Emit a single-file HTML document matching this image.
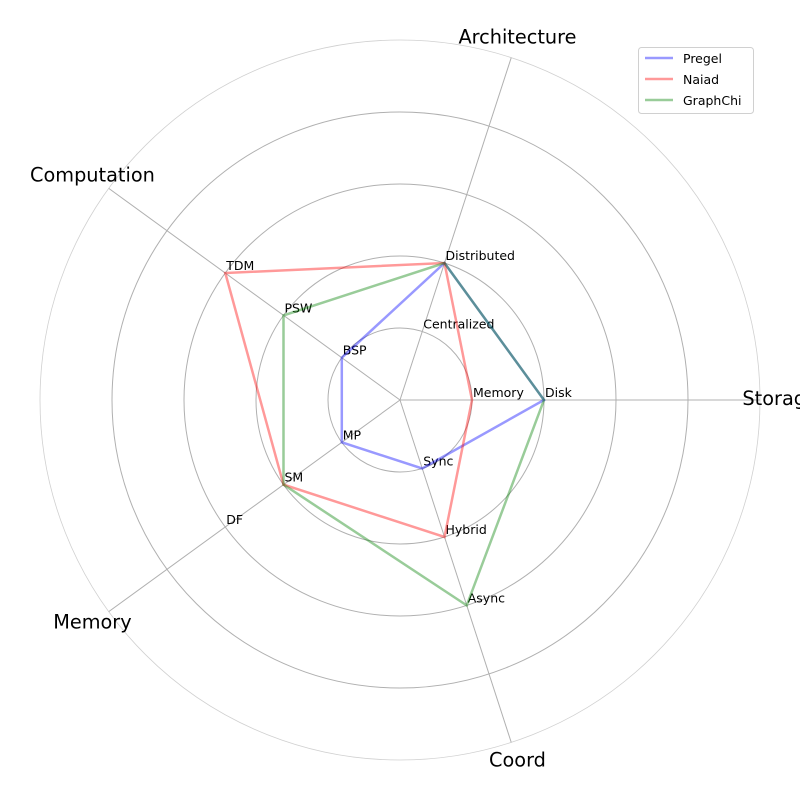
<!DOCTYPE html>
<html><head><meta charset="utf-8"><style>
body{margin:0;background:#fff}
svg{display:block;font-family:"DejaVu Sans","Liberation Sans",sans-serif}
</style></head><body>
<svg id="chart" width="800" height="800"></svg>
<script>
const categories = ["Storage","Architecture","Computation","Memory","Coord"];
const tickLabels = [["Memory","Disk"],["Centralized","Distributed"],["BSP","PSW","TDM"],["MP","SM","DF"],["Sync","Hybrid","Async"]];
const seriesNames = ["Pregel","Naiad","GraphChi"];
const pregel = [2,2,1,1,1];
const naiad = [1,2,3,2,2];
const graphchi = [2,2,2,2,3];
const seriesValues = [pregel,naiad,graphchi];
const colors = ["#0000ff","#ff0000","#008000"];

const NS="http://www.w3.org/2000/svg";
const svg=document.getElementById('chart');
const cx=400,cy=400,unit=72,maxV=5;
function ang(i){return i*2*Math.PI/categories.length;}
function px(i,v){return cx+Math.cos(ang(i))*v*unit;}
function py(i,v){return cy-Math.sin(ang(i))*v*unit;}
function mk(tag,attrs){const e=document.createElementNS(NS,tag);for(const k in attrs)e.setAttribute(k,attrs[k]);svg.appendChild(e);return e;}

for(let r=1;r<=maxV;r++){
  const c=mk('circle',{cx:cx,cy:cy,r:r*unit,fill:'none',stroke:r===maxV?'#d0d0d0':'#b0b0b0','stroke-width':r===maxV?0.8:1});
  
  
}
categories.forEach((c,i)=>{
  const l=mk('line',{x1:cx,y1:cy,x2:px(i,maxV),y2:py(i,maxV),stroke:'#b0b0b0','stroke-width':1});
  
  
  const t=mk('text',{x:px(i,5.28),y:py(i,5.28)+5,'font-size':19.3,'text-anchor':'middle',fill:'#000'});
  t.textContent=c;
  
  
  tickLabels[i].forEach((lab,j)=>{
    const tt=mk('text',{x:px(i,j+1)+1,y:py(i,j+1)-3,'font-size':12.5,fill:'#000'});
    tt.textContent=lab;
    
    
  });
});
seriesValues.forEach((vals,s)=>{
  const pts=vals.map((v,i)=>px(i,v).toFixed(1)+','+py(i,v).toFixed(1)).join(' ');
  const p=mk('polygon',{points:pts,fill:'none',stroke:colors[s],'stroke-opacity':0.4,'stroke-width':2.5,'stroke-linejoin':'miter'});
  
  
});
const lg=mk('rect',{x:638.5,y:47.5,width:115,height:66,rx:3,fill:'#fff',stroke:'#d0d0d0'});


seriesNames.forEach((n,s)=>{
  const y=58+s*21;
  const l=mk('line',{x1:645,y1:y,x2:673,y2:y,stroke:colors[s],'stroke-opacity':0.4,'stroke-width':2.5});
  
  
  const t=mk('text',{x:683,y:y+5,'font-size':12.5,fill:'#000'});
  t.textContent=n;
  
  
});
</script>
</body></html>
